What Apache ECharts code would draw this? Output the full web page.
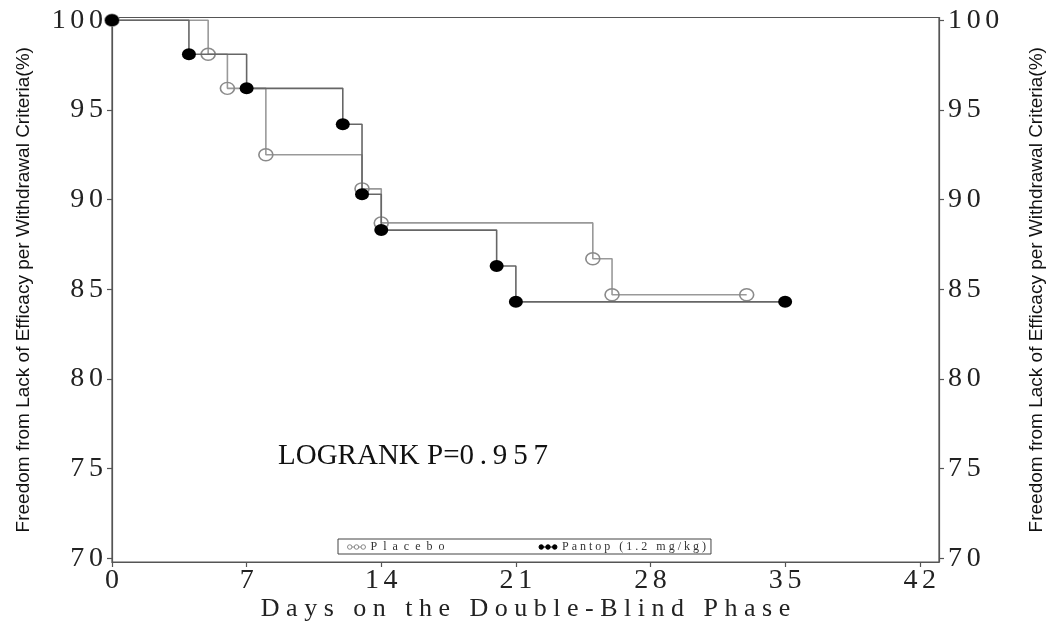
<!DOCTYPE html>
<html>
<head>
<meta charset="utf-8">
<script src="https://cdn.jsdelivr.net/npm/echarts@6/dist/echarts.min.js"></script>
<style>
  html, body { margin: 0; padding: 0; background: #fff; }
  #chart { width: 1049px; height: 622px; }
</style>
</head>
<body>
<div id="chart"></div>
<script>
// Kaplan-Meier estimates: [day, percent free of withdrawal]
const placeboDays   = [0, 5, 6, 8, 13, 14, 25, 26, 33];
const placeboValues = [100, 98.1, 96.2, 92.5, 90.6, 88.7, 86.7, 84.7, 84.7];
const pantopDays    = [0, 4, 7, 12, 13, 14, 20, 21, 35];
const pantopValues  = [100, 98.1, 96.2, 94.2, 90.3, 88.3, 86.3, 84.3, 84.3];

const xTicks = [0, 7, 14, 21, 28, 35, 42];
const yTicks = [70, 75, 80, 85, 90, 95, 100];

const seriesNames = ['Placebo', 'Pantop (1.2 mg/kg)'];
const annotation = 'LOGRANK P=0.957';

const serif = '"Liberation Serif", "Times New Roman", serif';
const sans = '"Liberation Sans", Arial, sans-serif';

// widen text the way the SAS output font does
function spaced(s, sep) { return String(s).split('').join(sep); }

const pairs = (xs, ys) => xs.map((x, i) => [x, ys[i]]);

// three linked circles, used as the legend key
const threeDots = 'path://M0,4a4,4 0 1,0 8,0a4,4 0 1,0 -8,0M8,4L12,4M12,4a4,4 0 1,0 8,0a4,4 0 1,0 -8,0M20,4L24,4M24,4a4,4 0 1,0 8,0a4,4 0 1,0 -8,0';

const yTitle = 'Freedom from Lack of Efficacy per Withdrawal Criteria(%)';

const axisLineStyle = { color: '#555', width: 1.2 };

const yAxisBase = {
  type: 'value',
  min: 69.8,
  max: 100.15,
  splitLine: { show: false },
  axisLine: { show: true, lineStyle: axisLineStyle },
  axisTick: { show: true, length: 5, customValues: yTicks, lineStyle: axisLineStyle },
  axisLabel: {
    customValues: yTicks,
    fontFamily: serif, fontSize: 28, color: '#222', margin: 9,
    formatter: v => spaced(v, '\u2006')
  },
  name: yTitle,
  nameLocation: 'middle',
  nameRotate: 90,
  nameTextStyle: { fontFamily: sans, fontSize: 19, color: '#111' }
};

const chart = echarts.init(document.getElementById('chart'), null, { renderer: 'canvas' });

chart.setOption({
  animation: false,
  backgroundColor: '#fff',
  grid: {
    left: 112, right: 110, top: 17.5, bottom: 60,
    containLabel: false,
    outerBoundsMode: 'none',
    show: true, borderColor: '#555', borderWidth: 1.2, backgroundColor: 'transparent'
  },
  title: {
    text: annotation.slice(0, 11) + '\u2009' + spaced(annotation.slice(11), '\u2009'),
    left: 278, top: 442,
    padding: 0,
    textStyle: { fontFamily: serif, fontSize: 29, fontWeight: 'normal', color: '#111' }
  },
  legend: {
    left: 338, top: 539,
    orient: 'horizontal',
    padding: [2, 5, 1, 7],
    itemGap: 94,
    itemWidth: 18, itemHeight: 4.5,
    borderColor: '#444', borderWidth: 1,
    textStyle: { fontFamily: serif, fontSize: 12, color: '#333' },
    formatter: name => spaced(name, name === seriesNames[0] ? '\u2002' : '\u2005'),
    data: [
      { name: seriesNames[0], icon: threeDots,
        itemStyle: { color: 'none', borderColor: '#888', borderWidth: 1 } },
      { name: seriesNames[1], icon: threeDots,
        itemStyle: { color: '#000', borderColor: '#000', borderWidth: 1 } }
    ]
  },
  xAxis: {
    type: 'value',
    min: 0, max: 43,
    splitLine: { show: false },
    axisLine: { show: true, lineStyle: axisLineStyle },
    axisTick: { show: true, length: 5, customValues: xTicks, lineStyle: axisLineStyle },
    axisLabel: {
      customValues: xTicks,
      fontFamily: serif, fontSize: 28, color: '#222', margin: 5,
      formatter: v => spaced(v, '\u2006')
    },
    name: spaced('Days on the Double-Blind Phase', '\u2005'),
    nameLocation: 'middle',
    nameGap: 34,
    nameMoveOverlap: false,
    nameTextStyle: { fontFamily: serif, fontSize: 26, color: '#222' }
  },
  yAxis: [
    Object.assign({}, yAxisBase, { position: 'left', nameGap: 79 }),
    Object.assign({}, yAxisBase, { position: 'right', nameGap: 88 })
  ],
  series: [
    {
      name: seriesNames[0],
      type: 'line',
      step: 'end',
      data: pairs(placeboDays, placeboValues),
      symbol: 'circle',
      symbolSize: [14, 12],
      itemStyle: { color: 'none', borderColor: '#8a8a8a', borderWidth: 1.5 },
      lineStyle: { color: '#999', width: 1.6 },
      z: 2
    },
    {
      name: seriesNames[1],
      type: 'line',
      step: 'end',
      data: pairs(pantopDays, pantopValues),
      symbol: 'circle',
      symbolSize: [14, 12],
      itemStyle: { color: '#000', borderColor: '#000', borderWidth: 0 },
      lineStyle: { color: '#666', width: 1.6 },
      z: 3
    }
  ]
});
</script>
</body>
</html>
